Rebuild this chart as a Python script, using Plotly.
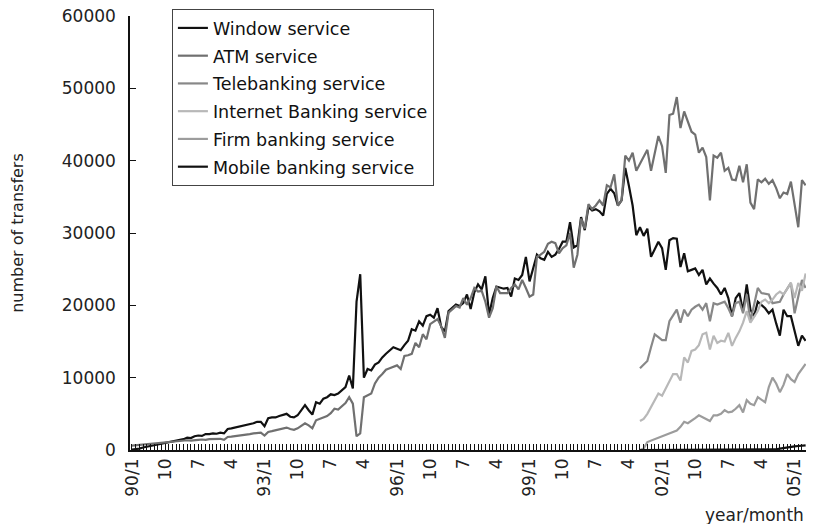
import plotly.graph_objects as go

# ---------------- data (monthly, index 0 = 1990/1) ----------------
window = [50, 100, 200, 350, 450, 600, 700, 800, 900, 950, 1000, 1150, 1300,
          1400, 1500, 1700, 1650, 1900, 2000, 1950, 2200, 2200, 2300, 2250, 2400,
          2300, 2900, 3000, 3100, 3300, 3300, 3500, 3600, 3700, 3900, 3900, 3300,
          4400, 4500, 4500, 4700, 4800, 5000, 4600, 4500, 4800, 5500, 6200, 5500,
          4900, 6600, 6400, 7100, 7300, 7700, 7600, 7800, 8200, 8700, 10300, 8500,
          20500, 24300, 10000, 11200, 11000, 11800, 12100, 12800, 13300, 13800, 14200, 14000,
          13800, 14500, 15100, 16700, 16500, 17800, 17200, 18500, 18700, 18300, 19600, 17000,
          16400, 19200, 19600, 20100, 19900, 20300, 21500, 19500, 21800, 22900, 22200, 24000,
          18700, 21000, 22600, 22400, 22300, 22400, 21200, 23700, 23500, 24200, 26700, 23300,
          25000, 27000, 26500, 26300, 27400, 26700, 27000, 27800, 28800, 28800, 31500, 28000,
          28300, 32200, 30400, 33600, 33100, 33300, 33000, 32400, 35400, 36100, 35500, 33800,
          34500, 39000, 36500, 33800, 29700, 30800, 29600, 30600, 26700, 27800, 28800, 27900,
          24900, 29000, 29300, 29200, 25300, 27200, 24700, 24900, 25100, 24200, 24900, 22900,
          23700, 23000, 22400, 21500, 22400, 21000, 18500, 21000, 21700, 19200, 22900, 19400,
          18500, 20500, 20000, 19600, 18900, 19400, 17500, 15800, 19400, 18500, 18500, 16500,
          14400, 15800, 15100]

atm = [600, 650, 700, 750, 800, 850, 900, 950, 1100, 1100, 1150, 1200, 1250,
       1300, 1300, 1350, 1300, 1400, 1400, 1450, 1400, 1500, 1500, 1450, 1550,
       1400, 1800, 1850, 1900, 2000, 2000, 2100, 2200, 2300, 2300, 2400, 2000,
       2500, 2600, 2700, 2800, 2900, 3100, 2900, 2800, 3000, 3400, 3700, 3400,
       3000, 4100, 4300, 4500, 4700, 5100, 5700, 5600, 6000, 6500, 7300, 6400,
       1900, 2300, 7300, 7600, 7800, 9200, 10000, 10500, 11100, 11300, 11500, 11700,
       11200, 13000, 13100, 13300, 14800, 14200, 16000, 15300, 17400, 17800, 18100, 17100,
       15500, 19000, 19500, 19900, 19700, 21000, 20100, 21000, 22400, 21900, 22000, 20500,
       18300, 19600, 22600, 21700, 21700, 21700, 22400, 22900, 22200, 23500, 22400, 21200,
       21500, 26700, 27000, 27400, 28500, 28800, 28600, 27200, 27900, 28300, 30000, 25200,
       27000, 32000, 30600, 34000, 33300, 33800, 34500, 33800, 36600, 36300, 38100, 33800,
       34500, 40700, 40000, 41100, 38600, 39500, 40500, 41500, 38600, 41000, 43400, 42000,
       38300, 46300, 46500, 48800, 44500, 46800, 45500, 44000, 43600, 41100, 41800, 40500,
       34500, 40700, 40400, 41100, 38600, 39000, 37400, 37300, 39300, 37000, 39500, 34200,
       33300, 37400, 37000, 37500, 36800, 37300, 36200, 34800, 35600, 35400, 37100, 34200,
       30800, 37300, 36600]

new_start = 138  # first month index of the newer services (2001/7)

telebanking = [11300, 11800, 12300, 14200, 16000, 15600, 15200, 15200, 17800, 18600,
               19400, 17600, 19400, 18500, 19400, 19800, 20100, 19400, 20300, 17800,
               20300, 20100, 20300, 20500, 19600, 18500, 20300, 20500, 18900, 21500,
               17800, 20000, 22400, 21700, 21600, 21500, 20300, 20400, 20500, 21500,
               22300, 23100, 18900, 21000, 23500, 22400]

internet = [4000, 4300, 5000, 5900, 7000, 7800, 7500, 8500, 9400, 10500,
            10500, 9600, 12800, 12100, 13700, 13900, 14500, 16000, 16200, 13900,
            15800, 14800, 15100, 15000, 16200, 14400, 15500, 16400, 17600, 19200,
            17600, 18500, 19200, 20500, 20800, 20300, 20800, 21500, 21900, 21500,
            22300, 23100, 21000, 23100, 22000, 24400]

firm = [0, 200, 1100, 1300, 1500, 1600, 1800, 2000, 2200, 2500,
        2700, 3200, 3900, 3700, 4000, 4400, 4800, 4500, 4300, 4000,
        4800, 4800, 5000, 5500, 5200, 5300, 5700, 6200, 5200, 6900,
        6400, 6200, 7300, 6900, 6600, 8700, 10000, 9200, 8000, 9000,
        10500, 9800, 9400, 10500, 11200, 11900]

mobile = [0, 0, 0, 0, 0, 0, 0, 0, 0, 0,
          0, 0, 0, 0, 0, 0, 0, 0, 0, 0,
          0, 0, 0, 0, 0, 0, 0, 0, 0, 0,
          0, 0, 0, 0, 0, 0, 0, 100, 200, 300,
          400, 450, 500, 550, 600, 650]

tick_months = [0, 9, 18, 27, 36, 45, 54, 63, 72, 81, 90, 99, 108, 117, 126, 135, 144, 153, 162, 171, 180]
tick_labels = ["90/1", "10", "7", "4", "93/1", "10", "7", "4", "96/1", "10", "7", "4",
               "99/1", "10", "7", "4", "02/1", "10", "7", "4", "05/1"]

# ---------------- figure ----------------
FONT = "DejaVu Sans"
x_old = list(range(len(window)))
x_new = list(range(new_start, new_start + len(telebanking)))

series = [
    ("Window service", x_old, window, "#111111"),
    ("ATM service", x_old, atm, "#707070"),
    ("Telebanking service", x_new, telebanking, "#888888"),
    ("Internet Banking service", x_new, internet, "#b8b8b8"),
    ("Firm banking service", x_new, firm, "#9c9c9c"),
    ("Mobile banking service", x_new, mobile, "#111111"),
]

fig = go.Figure()
for i, (name, xs, ys, col) in enumerate(series):
    fig.add_trace(go.Scatter(x=xs, y=ys, mode="lines", name=name,
                             legendgroup=f"g{i}",
                             line=dict(color=col, width=2.2)))

# the page body adds an 8px offset; the figure is sized to compensate
fig.update_layout(
    width=798, height=516,
    margin=dict(l=122, r=0, t=8, b=74, autoexpand=False),
    paper_bgcolor="white", plot_bgcolor="white",
    font=dict(family=FONT, size=17, color="#222"),
    showlegend=True,
    legend=dict(x=0.062, y=1.016, xanchor="left", yanchor="top",
                bgcolor="white", bordercolor="#444", borderwidth=1,
                font=dict(family=FONT, size=17.5, color="#111"),
                tracegroupgap=2),
)

fig.update_xaxes(
    range=[-0.54, 183.1], automargin=False,
    tickmode="array", tickvals=tick_months, ticktext=tick_labels,
    tickangle=-90, ticks="inside", ticklen=6, tickcolor="#111",
    minor=dict(dtick=1, tick0=0, ticks="inside", ticklen=6, tickcolor="#111"),
    showline=True, linecolor="#111", linewidth=1.5,
    showgrid=False, zeroline=False,
    tickfont=dict(family=FONT, size=17, color="#222"),
    ticklabeloverflow="allow",
)

fig.update_yaxes(
    range=[0, 60000], automargin=False,
    tickvals=[0, 10000, 20000, 30000, 40000, 50000, 60000], tickformat="d",
    ticks="inside", ticklen=6, tickcolor="#111",
    showline=True, linecolor="#111", linewidth=1.5,
    showgrid=False, zeroline=False,
    tickfont=dict(family=FONT, size=17, color="#222"),
    ticklabelstandoff=9, ticklabeloverflow="allow",
    title=dict(text="number of transfers", font=dict(family=FONT, size=16, color="#222"),
               standoff=43),
)

fig.add_annotation(text="year/month", xref="paper", yref="paper",
                   x=1.0, y=0, xanchor="right", yanchor="top", yshift=-53,
                   showarrow=False, font=dict(family=FONT, size=17, color="#222"))

fig.write_html("out.html")
